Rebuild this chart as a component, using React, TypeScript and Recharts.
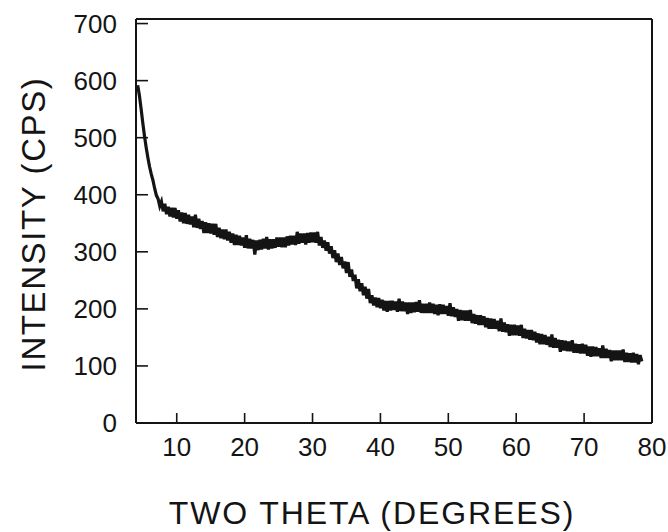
import {
  Label,
  Line,
  LineChart,
  XAxis,
  YAxis,
} from "recharts";

// scan settings: first angle and step width (degrees two theta)
const startAngle = 4.25;
const stepAngle = 0.25;

// counts per second, one step at a time
const intensityCps = [
  592, 574, 551, 526, 503, 483, 465, 449, 436, 425,
  411, 399, 393, 380, 388, 371, 384, 366, 379, 362,
  377, 360, 377, 358, 373, 353, 369, 350, 368, 349,
  365, 348, 362, 343, 365, 342, 358, 340, 354, 333,
  352, 333, 350, 332, 349, 330, 349, 326, 342, 324,
  339, 322, 339, 320, 335, 316, 332, 312, 330, 312,
  328, 311, 325, 307, 329, 306, 323, 306, 321, 295,
  320, 303, 321, 304, 323, 306, 326, 304, 322, 306,
  322, 307, 325, 309, 325, 308, 325, 308, 327, 311,
  328, 313, 328, 312, 335, 314, 332, 316, 332, 313,
  333, 316, 334, 317, 334, 316, 335, 311, 326, 307,
  320, 302, 317, 297, 310, 289, 303, 282, 297, 277,
  291, 271, 283, 263, 282, 256, 269, 249, 260, 236,
  252, 231, 245, 224, 239, 218, 235, 210, 224, 206,
  220, 203, 219, 201, 216, 197, 214, 195, 214, 197,
  214, 198, 213, 195, 218, 196, 213, 196, 211, 191,
  211, 193, 211, 194, 212, 195, 215, 193, 209, 193,
  209, 193, 211, 193, 209, 191, 207, 189, 208, 191,
  207, 191, 205, 188, 210, 187, 203, 186, 200, 179,
  198, 180, 197, 179, 197, 179, 198, 175, 191, 174,
  189, 172, 189, 172, 187, 168, 184, 165, 183, 165,
  182, 165, 179, 161, 183, 160, 176, 159, 173, 153,
  172, 154, 172, 154, 171, 153, 172, 149, 165, 148,
  163, 146, 163, 145, 160, 141, 157, 138, 156, 138,
  154, 137, 151, 133, 155, 132, 149, 132, 146, 125,
  145, 127, 144, 126, 143, 126, 145, 123, 139, 123,
  138, 122, 139, 122, 137, 118, 134, 116, 134, 117,
  133, 117, 131, 114, 136, 114, 130, 114, 128, 108,
  127, 110, 127, 110, 127, 110, 129, 107, 123, 107,
  122, 106, 123, 106, 121, 103, 119, 108,
];

const xTicks = [10, 20, 30, 40, 50, 60, 70, 80];
const yTicks = [0, 100, 200, 300, 400, 500, 600, 700];
const xDomain = [4, 80];
const yDomain = [0, 708];

const data = intensityCps.map((cps, i) => ({
  angle: startAngle + i * stepAngle,
  cps,
}));

const ink = "#141414";
const font = "'Liberation Sans', Arial, Helvetica, sans-serif";
const xTickGap = 15;
const yTickGap = 19;

// tick label plus a short mark pointing up into the plot
function XTick(props: any) {
  const { x, y, payload } = props;
  const axisY = y - xTickGap;
  return (
    <g>
      <line x1={x} x2={x} y1={axisY} y2={axisY - 10} stroke={ink} strokeWidth={1.6} />
      <text
        x={x}
        y={y}
        dy="0.71em"
        textAnchor="middle"
        fontFamily={font}
        fontSize={26}
        fill={ink}
      >
        {payload.value}
      </text>
    </g>
  );
}

// tick label plus a short mark pointing right into the plot
function YTick(props: any) {
  const { x, y, payload } = props;
  const axisX = x + yTickGap;
  return (
    <g>
      <line x1={axisX} x2={axisX + 12} y1={y} y2={y} stroke={ink} strokeWidth={1.6} />
      <text
        x={x}
        y={y}
        dy="0.36em"
        textAnchor="end"
        fontFamily={font}
        fontSize={26}
        fill={ink}
      >
        {payload.value}
      </text>
    </g>
  );
}

export default function App() {
  return (
    <div
      style={{
        position: "absolute",
        left: 0,
        top: 0,
        width: 668,
        height: 532,
        background: "#fff",
      }}
    >
      <LineChart
        width={668}
        height={532}
        data={data}
        margin={{ top: 18, right: 15, bottom: 0, left: 0 }}
      >
        <XAxis
          dataKey="angle"
          type="number"
          domain={xDomain}
          ticks={xTicks}
          height={109}
          tickSize={0}
          tickMargin={xTickGap}
          tickLine={false}
          axisLine={{ stroke: ink, strokeWidth: 2 }}
          stroke={ink}
          tick={<XTick />}
          interval={0}
        >
          <Label
            content={(p: any) => (
              <text
                x={p.viewBox.x + p.viewBox.width / 2 - 22}
                y={p.viewBox.y + 101}
                textAnchor="middle"
                fontFamily={font}
                fontSize={32}
                letterSpacing={1.9}
                fill={ink}
              >
                TWO THETA (DEGREES)
              </text>
            )}
          />
        </XAxis>

        {/* top and right edges of the frame */}
        <XAxis
          xAxisId="top"
          orientation="top"
          dataKey="angle"
          type="number"
          domain={xDomain}
          height={1}
          tick={false}
          tickLine={false}
          stroke={ink}
          axisLine={{ stroke: ink, strokeWidth: 2 }}
        />

        <YAxis
          type="number"
          domain={yDomain}
          ticks={yTicks}
          width={136}
          tickSize={0}
          tickMargin={yTickGap}
          tickLine={false}
          axisLine={{ stroke: ink, strokeWidth: 2 }}
          stroke={ink}
          tick={<YTick />}
          interval={0}
        >
          <Label
            content={(p: any) => {
              const cx = 33;
              const cy = p.viewBox.y + p.viewBox.height / 2 + 3;
              return (
                <text
                  x={cx}
                  y={cy}
                  transform={`rotate(-90 ${cx} ${cy})`}
                  textAnchor="middle"
                  dominantBaseline="central"
                  fontFamily={font}
                  fontSize={33}
                  letterSpacing={1.6}
                  fill={ink}
                >
                  INTENSITY (CPS)
                </text>
              );
            }}
          />
        </YAxis>

        <YAxis
          yAxisId="right"
          orientation="right"
          type="number"
          domain={yDomain}
          width={1}
          tick={false}
          tickLine={false}
          stroke={ink}
          axisLine={{ stroke: ink, strokeWidth: 2 }}
        />

        <Line
          type="linear"
          dataKey="cps"
          stroke={ink}
          strokeWidth={3.2}
          dot={false}
          isAnimationActive={false}
        />
      </LineChart>
    </div>
  );
}
